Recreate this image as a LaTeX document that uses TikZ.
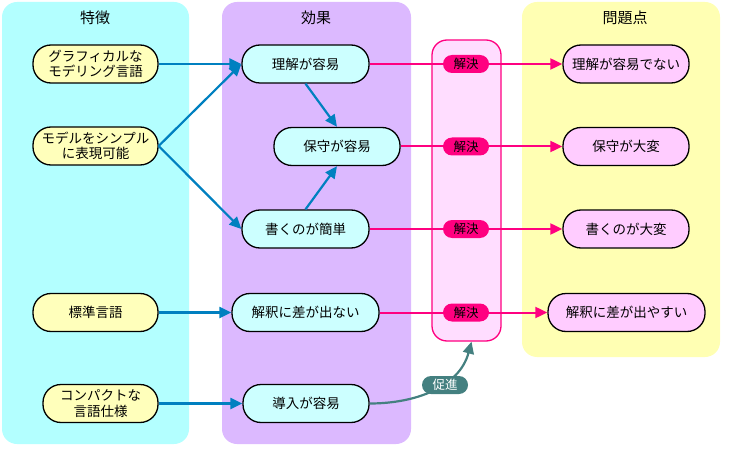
\documentclass[tikz,border=0pt]{standalone}
\usepackage{fontspec}
\setmainfont{Noto Sans CJK JP}
\usetikzlibrary{arrows.meta}
\definecolor{pcyan}{HTML}{B3FFFF}
\definecolor{plav}{HTML}{DCB9FF}
\definecolor{pyel}{HTML}{FFFFB3}
\definecolor{colfill}{HTML}{FFDDFF}
\definecolor{mag}{HTML}{FF0080}
\definecolor{nyel}{HTML}{FFFFBB}
\definecolor{ncyan}{HTML}{CCFFFF}
\definecolor{npink}{HTML}{FFCCFF}
\definecolor{ablue}{HTML}{0080C0}
\definecolor{teal2}{HTML}{448080}
\begin{document}
\begin{tikzpicture}[x=1pt,y=-1pt,
  panel/.style={rounded corners=15pt},
  title/.style={font=\fontsize{15}{17}\selectfont},
  pill/.style={draw=black, line width=1.3pt, rounded corners=18pt, minimum height=38pt, inner sep=0pt, align=center, font=\fontsize{13.5}{15.5}\selectfont},
  feat/.style={pill, fill=nyel},
  eff/.style={pill, fill=ncyan},
  prob/.style={pill, fill=npink},
  barrow/.style={draw=ablue, line width=2.2pt, -{Triangle[length=12pt,width=11pt]}},
  parrow/.style={draw=mag, line width=2pt, -{Triangle[length=12pt,width=11pt]}},
  solve/.style={fill=mag, rounded corners=9pt, minimum width=46pt, minimum height=18pt, inner sep=0pt, font=\fontsize{12.5}{14}\selectfont},
  promo/.style={fill=teal2, text=white, rounded corners=9pt, minimum width=46pt, minimum height=18pt, inner sep=0pt, font=\fontsize{12.5}{14}\selectfont},
]
\useasboundingbox (0,0) rectangle (733,457);
% panels
\fill[pcyan, panel] (2,2) rectangle (189,444);
\fill[plav, panel] (222,2) rectangle (411,444);
\fill[pyel, panel] (522,2) rectangle (720,357);
\node[draw=mag, fill=colfill, line width=1.3pt, rounded corners=15pt, minimum width=69pt, minimum height=301pt, inner sep=0pt] (col) at (466.5,190.5) {};
% titles
\node[title] (t1) at (95,18) {特徴};
\node[title] (t2) at (316,18) {効果};
\node[title] (t3) at (625,18) {問題点};
% feature nodes
\node[feat, minimum width=125pt] (f1) at (95.5,64) {グラフィカルな\\モデリング言語};
\node[feat, minimum width=125pt] (f2) at (95.5,146) {モデルをシンプル\\に表現可能};
\node[feat, minimum width=125pt] (f3) at (95.5,312.5) {標準言語};
\node[feat, minimum width=115pt] (f4) at (100.5,403.5) {コンパクトな\\言語仕様};
% effect nodes
\node[eff, minimum width=127pt] (e1) at (305.5,64) {理解が容易};
\node[eff, minimum width=126pt] (e2) at (337,146.5) {保守が容易};
\node[eff, minimum width=127pt] (e3) at (305.5,229) {書くのが簡単};
\node[eff, minimum width=147pt] (e4) at (305.5,312.5) {解釈に差が出ない};
\node[eff, minimum width=126pt] (e5) at (306,403.5) {導入が容易};
% problem nodes
\node[prob, minimum width=126pt] (p1) at (626,64) {理解が容易でない};
\node[prob, minimum width=126pt] (p2) at (626,146.5) {保守が大変};
\node[prob, minimum width=126pt] (p3) at (626,229) {書くのが大変};
\node[prob, minimum width=157pt] (p4) at (626.5,312.5) {解釈に差が出やすい};
% blue arrows
\draw[barrow] (f1.east) -- (e1.west);
\draw[barrow] (f2.east) -- (e1.west);
\draw[barrow] (f2.east) -- (e3.west);
\draw[barrow] (e1.south) -- (e2.north);
\draw[barrow] (e3.north) -- (e2.south);
\draw[barrow] (f3.east) -- (e4.west);
\draw[barrow] (f4.east) -- (e5.west);
% magenta arrows
\draw[parrow] (e1.east) -- (p1.west);
\draw[parrow] (e2.east) -- (p2.west);
\draw[parrow] (e3.east) -- (p3.west);
\draw[parrow] (e4.east) -- (p4.west);
\node[solve] (s1) at (466,64) {解決};
\node[solve] (s2) at (466,146.5) {解決};
\node[solve] (s3) at (466,229) {解決};
\node[solve] (s4) at (466,312.5) {解決};
% promote
\coordinate (ct) at ([xshift=5pt]col.south);
\draw[draw=teal2, line width=2.2pt, -{Triangle[length=12pt,width=11pt]}] (e5.east) to[out=0, in=-105] (ct);
\node[promo] (pr) at (445,385) {促進};
\end{tikzpicture}
\end{document}
